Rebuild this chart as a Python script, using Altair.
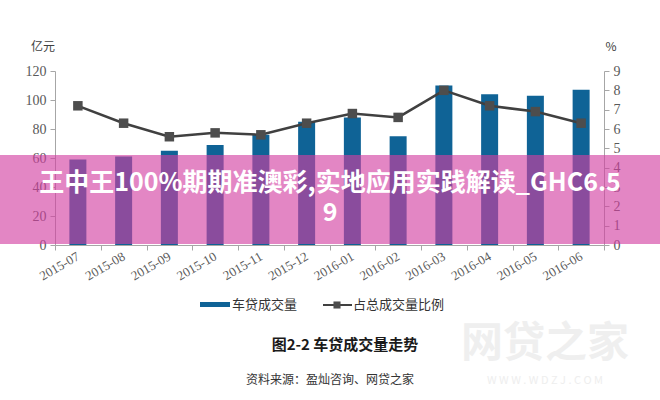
import altair as alt
import pandas as pd

months = ["2015-07", "2015-08", "2015-09", "2015-10", "2015-11", "2015-12",
          "2016-01", "2016-02", "2016-03", "2016-04", "2016-05", "2016-06"]
volume = [59, 61, 65, 69, 76, 85, 88, 75, 110, 104, 103, 107]
share = [7.2, 6.3, 5.6, 5.8, 5.7, 6.3, 6.8, 6.6, 8.0, 7.2, 6.9, 6.3]

df = pd.DataFrame({"month": months, "volume": volume, "share": share})

SERIF = "Liberation Serif"
CJK = "Noto Sans CJK SC"
AX = "#a6a6a6"
LAB = "#595959"

x_axis = alt.Axis(labelAngle=-30, labelFont=SERIF, labelFontSize=13,
                  labelColor=LAB, domainColor=AX, tickColor=AX,
                  tickBand="extent", tickSize=5, labelPadding=5,
                  labelOverlap=False,
                  labelAlign="right", labelBaseline="middle")
x_enc = alt.X("month:N", sort=months, title=None,
              scale=alt.Scale(paddingInner=0, paddingOuter=0), axis=x_axis)

right_axis = alt.Axis(orient="right", values=list(range(10)), grid=False,
                      labelFont=SERIF, labelFontSize=14, labelColor=LAB,
                      domainColor=AX, tickColor=AX, tickSize=5,
                      labelOverlap=False, labelPadding=4)

base = alt.Chart(df)

bars = base.mark_bar(color="#0f6396", size=17).encode(
    x=x_enc,
    y=alt.Y("volume:Q", title=None,
            scale=alt.Scale(domain=[0, 120], nice=False),
            axis=alt.Axis(values=[0, 20, 40, 60, 80, 100, 120], grid=False,
                          labelFont=SERIF, labelFontSize=14, labelColor=LAB,
                          domainColor=AX, tickColor=AX, tickSize=5,
                          labelOverlap=False, labelPadding=4)),
)

y_share = alt.Y("share:Q", title=None,
                scale=alt.Scale(domain=[0, 9], nice=False), axis=right_axis)

line = base.mark_line(color="#404040", strokeWidth=2.5).encode(
    x=x_enc, y=y_share)
pts = base.mark_point(shape="square", filled=True, size=90, color="#4d4d4d",
                      opacity=1).encode(x=x_enc, y=y_share)

right = alt.layer(line, pts)
main = alt.layer(bars, right).resolve_scale(y="independent")


def txt(s, x, y, size=12, color="#333333", weight="normal", font=CJK,
        align="center"):
    return alt.Chart(pd.DataFrame({"t": [s]})).mark_text(
        font=font, fontSize=size, color=color, fontWeight=weight,
        align=align, baseline="middle").encode(
        text="t:N", x=alt.value(x), y=alt.value(y))


unit_l = txt("亿元", -12, -24, size=12, color="#404040")
unit_r = txt("%", 556, -24, size=12, color="#404040")

# legend
leg_rect = alt.Chart(pd.DataFrame({"a": [1]})).mark_rect(color="#0f6396").encode(
    x=alt.value(145), x2=alt.value(175), y=alt.value(231), y2=alt.value(236))
leg_t1 = txt("车贷成交量", 177, 234, size=13, color="#333333", align="left")
leg_line = alt.Chart(pd.DataFrame({"a": [1]})).mark_rule(
    color="#404040", strokeWidth=2).encode(
    x=alt.value(268), x2=alt.value(297), y=alt.value(234))
leg_pt = alt.Chart(pd.DataFrame({"a": [1]})).mark_point(
    shape="square", filled=True, size=50, color="#4d4d4d", opacity=1).encode(
    x=alt.value(282), y=alt.value(234))
leg_t2 = txt("占总成交量比例", 298, 234, size=13, color="#333333", align="left")

title = txt("图2-2 车贷成交量走势", 290, 274, size=15, color="#1a1a1a",
            weight="bold")
source = txt("资料来源：盈灿咨询、网贷之家", 275, 309, size=12, color="#333333")

wm1 = txt("网贷之家", 490, 273, size=42, color="#efefef", weight="bold")
wm2 = txt("W W W . W D Z J . C O M", 490, 310, size=11, color="#eeeeee")

banner = alt.Chart(pd.DataFrame({"a": [1]})).mark_rect(
    color="#d240a2", opacity=0.63).encode(
    x=alt.value(-55), x2=alt.value(605), y=alt.value(84), y2=alt.value(173))
ban1 = txt("王中王100%期期准澳彩,实地应用实践解读_GHC6.5", 275, 112, size=25,
           color="#ffffff", weight="bold")
ban2 = txt("9", 275, 142, size=25, color="#ffffff", weight="bold")

chart = alt.layer(
    main, unit_l, unit_r, leg_rect, leg_t1, leg_line, leg_pt, leg_t2,
    title, source, wm1, wm2, banner, ban1, ban2
).properties(
    width=549, height=174,
    autosize=alt.AutoSizeParams(type="none"),
    padding={"left": 55, "top": 71, "right": 56, "bottom": 155},
    background="white",
).configure_view(stroke=None)

chart.save("out.html", embed_options={"renderer": "svg", "actions": False})
